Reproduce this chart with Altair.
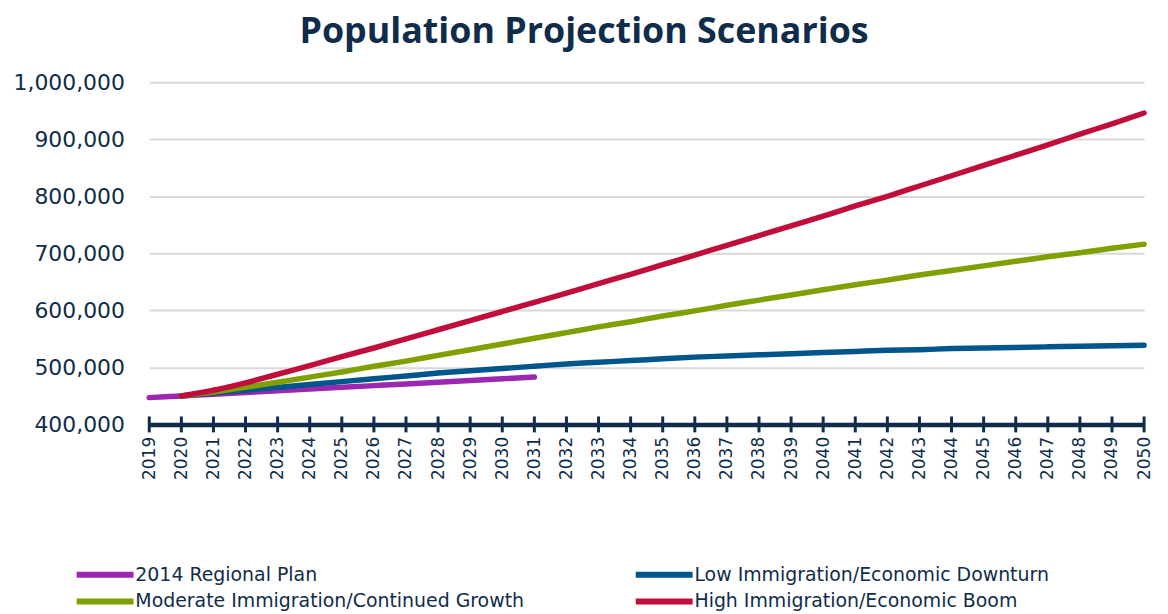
import altair as alt
import pandas as pd

years_plan = list(range(2019, 2032))
plan = [447000, 450000, 453000, 456000, 459000, 462000, 465000, 468000, 471000, 474000, 477000, 480000, 483000]

years_proj = list(range(2020, 2051))
low = [450000, 455000, 460000, 465000, 470000, 475000, 480000, 485000, 490000, 494000, 498000,
       502000, 506000, 509000, 512000, 515000, 518000, 520000, 522000, 524000, 526000,
       528000, 530000, 531000, 533000, 534000, 535000, 536000, 537000, 538000, 539000]
moderate = [450000, 457000, 465000, 474000, 483000, 492000, 502000, 511000, 521000, 531000, 541000,
            551000, 561000, 571000, 580000, 590000, 599000, 609000, 618000, 627000, 636000,
            645000, 653000, 662000, 670000, 678000, 686000, 694000, 701000, 709000, 716000]
high = [450000, 460000, 473000, 488000, 503000, 519000, 534000, 550000, 566000, 582000, 598000,
        614000, 630000, 647000, 663000, 680000, 697000, 714000, 731000, 748000, 765000,
        783000, 800000, 818000, 836000, 854000, 872000, 890000, 909000, 927000, 946000]

series_names = ["2014 Regional Plan", "Low Immigration/Economic Downturn",
                "Moderate Immigration/Continued Growth", "High Immigration/Economic Boom"]
series_colors = ["#9c27b0", "#00558b", "#7fa000", "#c00d3a"]
axis_years = list(range(2019, 2051))
y_ticks = [400000, 500000, 600000, 700000, 800000, 900000, 1000000]

rows = []
for y, v in zip(years_plan, plan):
    rows.append({"year": y, "value": v, "series": series_names[0]})
for name, vals in zip(series_names[1:], [low, moderate, high]):
    for y, v in zip(years_proj, vals):
        rows.append({"year": y, "value": v, "series": name})
df = pd.DataFrame(rows)
ticks_df = pd.DataFrame({"year": axis_years})

NAVY = "#0f2d4a"

xscale = alt.Scale(domain=[2019, 2050], nice=False, zero=False)
yscale = alt.Scale(domain=[400000, 1000000], nice=False, zero=False)

x_axis = alt.Axis(values=axis_years, format="d", title=None, labelAngle=-90,
                  labelAlign="right", labelBaseline="middle", labelFont="DejaVu Sans",
                  labelFontSize=17, labelColor=NAVY, labelPadding=12, ticks=False,
                  domainColor=NAVY, domainWidth=4.5, grid=False, labelOverlap=False,
                  labelFlush=False, labelBound=False)

lines = alt.Chart(df).mark_line(strokeWidth=5.5, strokeCap="round", interpolate="monotone").encode(
    x=alt.X("year:Q", scale=xscale, axis=x_axis),
    y=alt.Y("value:Q", scale=yscale,
            axis=alt.Axis(values=y_ticks, format=",d", title=None, labelFont="DejaVu Sans",
                          labelFontSize=22, labelColor=NAVY, labelPadding=25, ticks=False,
                          domain=False, gridColor="#d9d9d9", gridWidth=2)),
    color=alt.Color("series:N", scale=alt.Scale(domain=series_names, range=series_colors),
                    sort=series_names,
                    legend=alt.Legend(title=None, orient="none", legendX=-76, legendY=481,
                                      direction="horizontal", columns=2, columnPadding=100,
                                      rowPadding=1, symbolType="M-1,0H4.2", symbolSize=484,
                                      symbolStrokeWidth=6, labelFont="DejaVu Sans",
                                      labelFontSize=19, labelColor=NAVY, labelOffset=34,
                                      labelLimit=700)),
)

ticks = alt.Chart(ticks_df).mark_tick(orient="vertical", size=16, thickness=3, color=NAVY,
                                      opacity=1).encode(
    x=alt.X("year:Q", scale=xscale, axis=x_axis),
    y=alt.datum(400000),
)

chart = alt.layer(lines, ticks).properties(
    width=1000, height=344,
    title=alt.Title("Population Projection Scenarios", font="Open Sans", fontSize=36,
                    fontWeight="bold", color=NAVY, anchor="middle", frame="bounds", offset=20),
).configure_view(stroke=None)

chart.save("out.html", embed_options={"renderer": "svg", "actions": False})
